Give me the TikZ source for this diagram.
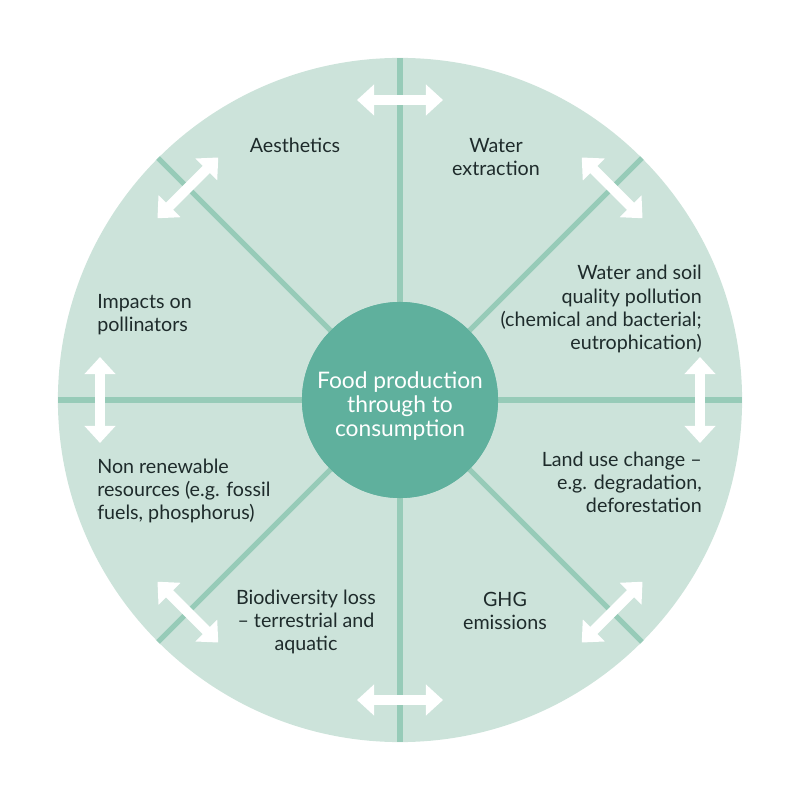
\documentclass[tikz,border=0pt]{standalone}
\usepackage{fontspec}
\setmainfont{Lato}
\usetikzlibrary{arrows.meta,positioning}
\definecolor{disc}{HTML}{CCE3DA}
\definecolor{spokecol}{HTML}{97CBB8}
\definecolor{corecol}{HTML}{5FB09D}
\definecolor{ink}{HTML}{1E2B2B}
\tikzset{
  spoke/.style={draw=spokecol, line width=3.6pt},
  swap/.style={
    draw=white, line width=7.1pt,
    {Triangle[width=21.3pt, length=12.1pt]}-{Triangle[width=21.3pt, length=12.1pt]}
  },
  label/.style={
    inner sep=0pt, text=ink,
    font=\fontsize{14}{16.4}\selectfont
  },
  hub/.style={
    circle, fill=corecol, minimum size=4.9cm, outer sep=0pt, inner sep=0pt
  },
  hubtext/.style={
    inner sep=0pt, align=center, text=white,
    font=\fontsize{16.2}{17.3}\selectfont
  }
}

\begin{document}
\begin{tikzpicture}[x=0.025cm, y=0.025cm]
        \useasboundingbox (-400,-400) rectangle (400,400);
        \node[circle, fill=disc, minimum size=17.1cm, outer sep=0pt] (rim) at (0,0) {};
        % spokes
        \node[hub] (core) at (0,0) {};
        \draw[spoke] (core.0) -- (rim.0);
        \draw[spoke] (core.45) -- (rim.45);
        \draw[spoke] (core.90) -- (rim.90);
        \draw[spoke] (core.135) -- (rim.135);
        \draw[spoke] (core.180) -- (rim.180);
        \draw[spoke] (core.225) -- (rim.225);
        \draw[spoke] (core.270) -- (rim.270);
        \draw[spoke] (core.315) -- (rim.315);
        \node[hub] at (core) {};
        \node[hubtext] (food) at (0,-6) {Food production\\through to\\consumption};
        % swap arrows across the spokes
        \coordinate (n1) at ([shift={(180:43)}]90:300);
        \coordinate (n2) at ([shift={(0:43)}]90:300);
        \coordinate (ne1) at ([shift={(135:43)}]45:300);
        \coordinate (ne2) at ([shift={(315:43)}]45:300);
        \coordinate (e1) at ([shift={(90:43)}]0:300);
        \coordinate (e2) at ([shift={(270:43)}]0:300);
        \coordinate (se1) at ([shift={(45:43)}]315:300);
        \coordinate (se2) at ([shift={(225:43)}]315:300);
        \coordinate (s1) at ([shift={(180:43)}]270:300);
        \coordinate (s2) at ([shift={(0:43)}]270:300);
        \coordinate (sw1) at ([shift={(135:43)}]225:300);
        \coordinate (sw2) at ([shift={(315:43)}]225:300);
        \coordinate (w1) at ([shift={(90:43)}]180:300);
        \coordinate (w2) at ([shift={(270:43)}]180:300);
        \coordinate (nw1) at ([shift={(45:43)}]135:300);
        \coordinate (nw2) at ([shift={(225:43)}]135:300);
        \draw[swap] (n1) -- (n2);
        \draw[swap] (ne1) -- (ne2);
        \draw[swap] (e1) -- (e2);
        \draw[swap] (se1) -- (se2);
        \draw[swap] (s1) -- (s2);
        \draw[swap] (sw1) -- (sw2);
        \draw[swap] (w1) -- (w2);
        \draw[swap] (nw1) -- (nw2);
        % impacts
        \node[label, align=center] (aes) at (-105,255) {Aesthetics};
        \node[label, align=center] (water) at (96,243) {Water\\extraction};
        \node[label, align=right, anchor=east] (soil) at (302,91) {Water and soil\\quality pollution\\(chemical and bacterial;\\eutrophication)};
        \node[label, align=right, anchor=east] (land) at (302,-82) {Land use change --\\e.g. degradation,\\deforestation};
        \node[label, align=center] (ghg) at (105,-211) {GHG\\emissions};
        \node[label, align=center] (bio) at (-94,-222) {Biodiversity loss\\-- terrestrial and\\aquatic};
        \node[label, align=left, anchor=west] (fossil) at (-303,-91) {Non renewable\\resources (e.g. fossil\\fuels, phosphorus)};
        \node[label, align=left, anchor=west] (poll) at (-303,85) {Impacts on\\pollinators};
      \end{tikzpicture}
\end{document}
